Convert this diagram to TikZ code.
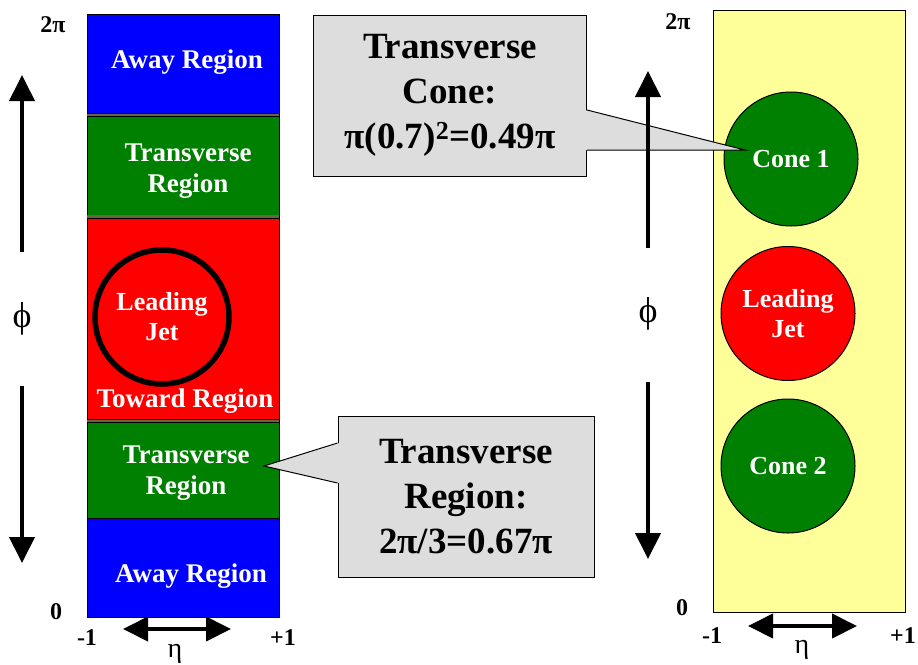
\documentclass[tikz,border=0pt]{standalone}
\usepackage{fontspec}
\setmainfont{Liberation Serif}
\usepackage{tikz}
\usetikzlibrary{positioning}
\usetikzlibrary{arrows.meta}
\definecolor{awayblue}{RGB}{0,0,255}
\definecolor{transgreen}{RGB}{0,128,0}
\definecolor{towardred}{RGB}{255,0,0}
\definecolor{panelyellow}{RGB}{255,255,153}
\definecolor{calloutgray}{RGB}{221,221,221}
\definecolor{sepolive}{RGB}{105,100,60}

\begin{document}
\begin{tikzpicture}[x=1pt,y=-1pt,
    band/.style={rectangle,draw=black,line width=0.8pt,minimum width=192pt,inner sep=0pt,outer sep=0pt},
    bandtext/.style={inner sep=0pt,text=white,font=\fontsize{27}{31}\selectfont\bfseries,align=center},
    jet/.style={circle,draw=black,line width=1pt,minimum size=134pt,inner sep=0pt,text=white,font=\fontsize{26}{30}\selectfont\bfseries,align=center},
    axlabel/.style={font=\fontsize{24}{26}\selectfont\bfseries,inner sep=0pt},
    varlabel/.style={font=\fontsize{28}{30}\selectfont,inner sep=0pt},
    philabel/.style={font=\fontsize{36}{38}\selectfont,inner sep=0pt},
    calloutbox/.style={rectangle,fill=calloutgray,draw=black,line width=1pt,inner sep=0pt,font=\fontsize{37}{45}\selectfont\bfseries,align=center},
    bigarrow/.style={line width=4pt,-{Triangle[width=25pt,length=26pt]}},
    etaarrow/.style={line width=4pt,{Triangle[width=24pt,length=25pt]}-{Triangle[width=24pt,length=25pt]}}]

  \useasboundingbox (0,0) rectangle (918,664);
  %
  % left: regions in eta-phi
  \node[band,fill=awayblue,minimum height=101pt,anchor=north] (away1) at (183,14) {};
  \node[band,fill=transgreen,minimum height=101.5pt,below=0pt of away1] (trans1) {};
  \node[band,fill=towardred,minimum height=204.5pt,below=0pt of trans1] (toward) {};
  \node[band,fill=transgreen,minimum height=97pt,below=0pt of toward] (trans2) {};
  \node[band,fill=awayblue,minimum height=99pt,below=0pt of trans2] (away2) {};
  \foreach \b in {away1,trans1,toward}
    \draw[line width=0.8pt,double=sepolive,double distance=2.4pt] (\b.south west) -- (\b.south east);
  \node[jet,fill=none,line width=5.5pt] (jetL) at (162,317) {Leading\\Jet};
  %
  \node[bandtext] (away1txt) at (187,62) {Away Region};
  \node[bandtext] (trans1txt) at (188,171) {Transverse\\Region};
  \node[bandtext] (towardtxt) at (185,401) {Toward Region};
  \node[bandtext] (trans2txt) at (186,473) {Transverse\\Region};
  \node[bandtext] (away2txt) at (191,576) {Away Region};
  %
  \node[axlabel] (twopiL) at (53,25) {2π};
  \node[axlabel] (zeroL) at (56,612) {0};
  \node[axlabel] (minusL) at (87,638) {-1};
  \node[axlabel] (plusL) at (283,638) {+1};
  \node[philabel] (phiL) at (22,319) {ϕ};
  \node[varlabel] (etaL) at (175,654) {η};
  \coordinate (phiLtop) at (22,75);
  \coordinate (phiLbot) at (22,563);
  \coordinate (etaLa) at (123,629);
  \coordinate (etaLb) at (231,629);
  %
  % right: cones in eta-phi
  \node[rectangle,draw=black,line width=0.8pt,fill=panelyellow,minimum width=192pt,minimum height=602pt,inner sep=0pt] (panel) at (809,311) {};
  \node[jet,fill=transgreen] (cone1) at (791,159) {Cone 1};
  \node[jet,fill=towardred] (jetR) at (788,313.5) {Leading\\Jet};
  \node[jet,fill=transgreen] (cone2) at (788,466) {Cone 2};
  %
  \node[axlabel] (twopiR) at (678,22) {2π};
  \node[axlabel] (zeroR) at (682,608) {0};
  \node[axlabel] (minusR) at (712,636) {-1};
  \node[axlabel] (plusR) at (903,636) {+1};
  \node[philabel] (phiR) at (648,314) {ϕ};
  \node[varlabel] (etaR) at (802,650) {η};
  \coordinate (phiRtop) at (648,71);
  \coordinate (phiRbot) at (648,559);
  \coordinate (etaRa) at (748,626);
  \coordinate (etaRb) at (857,626);
  %
  % callouts
  \node[calloutbox,minimum width=273pt,minimum height=161pt] (tcone) at (450,95.5) {Transverse\\Cone:\\π(0.7)\textsuperscript{2}=0.49π};
  \coordinate (tip1) at (745,150);
  \fill[calloutgray] ([xshift=-2pt,yshift=-14.5pt]tcone.east) -- (tip1) -- ([xshift=-2pt,yshift=-54.5pt]tcone.east) -- cycle;
  \draw[line width=1pt] ([yshift=-14.5pt]tcone.east) -- (tip1) -- ([yshift=-54.5pt]tcone.east);
  %
  \node[calloutbox,minimum width=256pt,minimum height=161pt] (tregion) at (466,496.5) {Transverse\\Region:\\2π/3=0.67π};
  \coordinate (tip2) at (264,466);
  \fill[calloutgray] ([xshift=2pt,yshift=53.5pt]tregion.west) -- (tip2) -- ([xshift=2pt,yshift=13.5pt]tregion.west) -- cycle;
  \draw[line width=1pt] ([yshift=53.5pt]tregion.west) -- (tip2) -- ([yshift=13.5pt]tregion.west);
  %
  % axis arrows
  \begin{scope}
      \draw[bigarrow,shorten <=67pt] (phiL.center) -- (phiLtop);
      \draw[bigarrow,shorten <=67pt] (phiL.center) -- (phiLbot);
      \draw[bigarrow,shorten <=66pt] (phiR.center) -- (phiRtop);
      \draw[bigarrow,shorten <=68pt] (phiR.center) -- (phiRbot);
      \draw[etaarrow] (etaLa) -- (etaLb);
      \draw[etaarrow] (etaRa) -- (etaRb);
  \end{scope}
\end{tikzpicture}
\end{document}
